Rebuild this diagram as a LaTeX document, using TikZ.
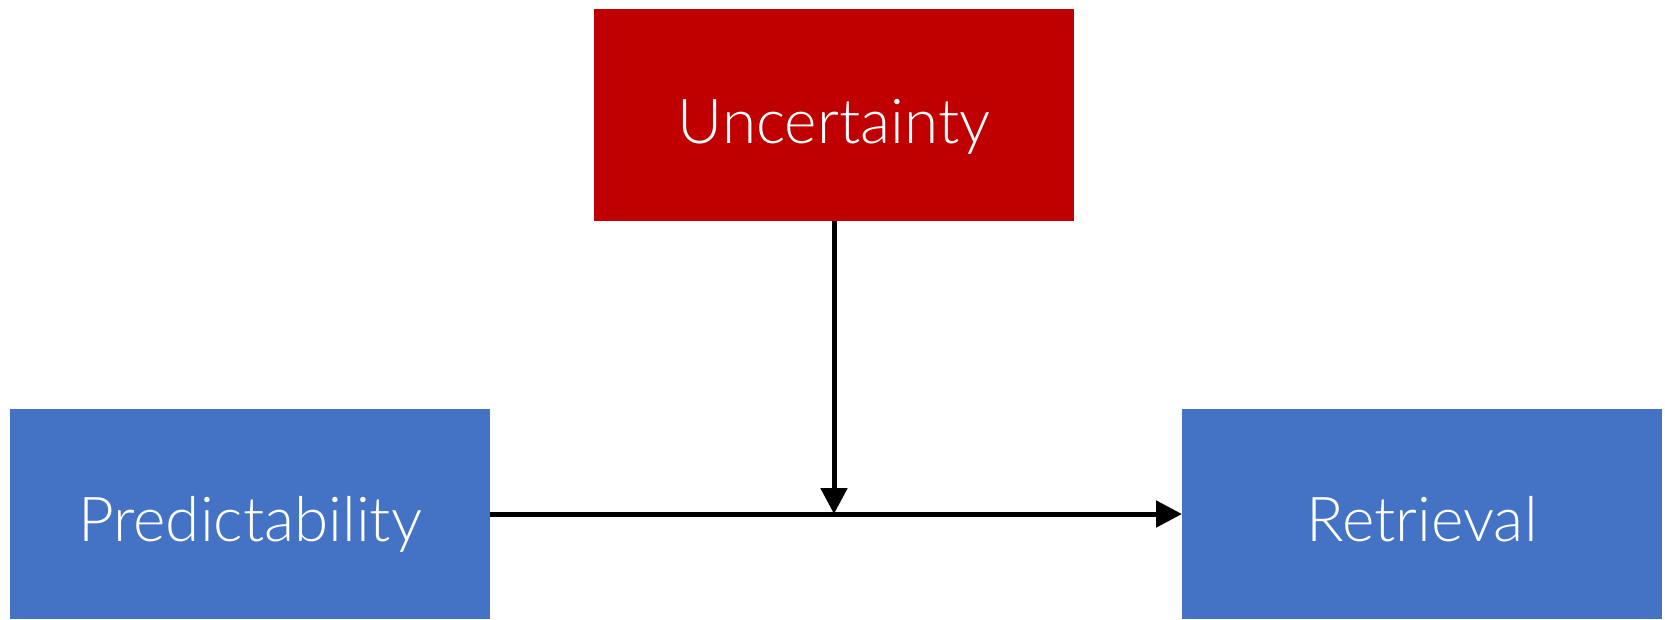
\documentclass[tikz,border=0pt]{standalone}
\usepackage{fontspec}
\setmainfont{Lato}[UprightFont=* Light]
\usetikzlibrary{arrows.meta}
\definecolor{ured}{RGB}{192,0,0}
\definecolor{pblue}{RGB}{68,114,196}
\tikzset{
  box/.style={draw=none, inner sep=0pt, outer sep=0pt, text=white,
    font=\fontsize{62}{66}\selectfont, text height=54pt, text depth=0pt,
    minimum width=480pt},
  conn/.style={line width=5pt, -{Triangle[length=26pt,width=26pt]}}
}
\begin{document}
\begin{tikzpicture}[x=1pt,y=-1pt]
\useasboundingbox (0,0) rectangle (1665,619);
\node[box, fill=ured, minimum height=211.7pt, text height=58pt] (U) at (834,114.85) {Uncertainty};
\node[box, fill=pblue, minimum height=210pt] (P) at (250,514) {Predictability};
\node[box, fill=pblue, minimum height=210pt] (R) at (1422,514) {Retrieval};
\coordinate (M) at (834,514);
\draw[conn] (P.east) -- (R.west);
\draw[conn] (U.south) -- (M);
\end{tikzpicture}
\end{document}
